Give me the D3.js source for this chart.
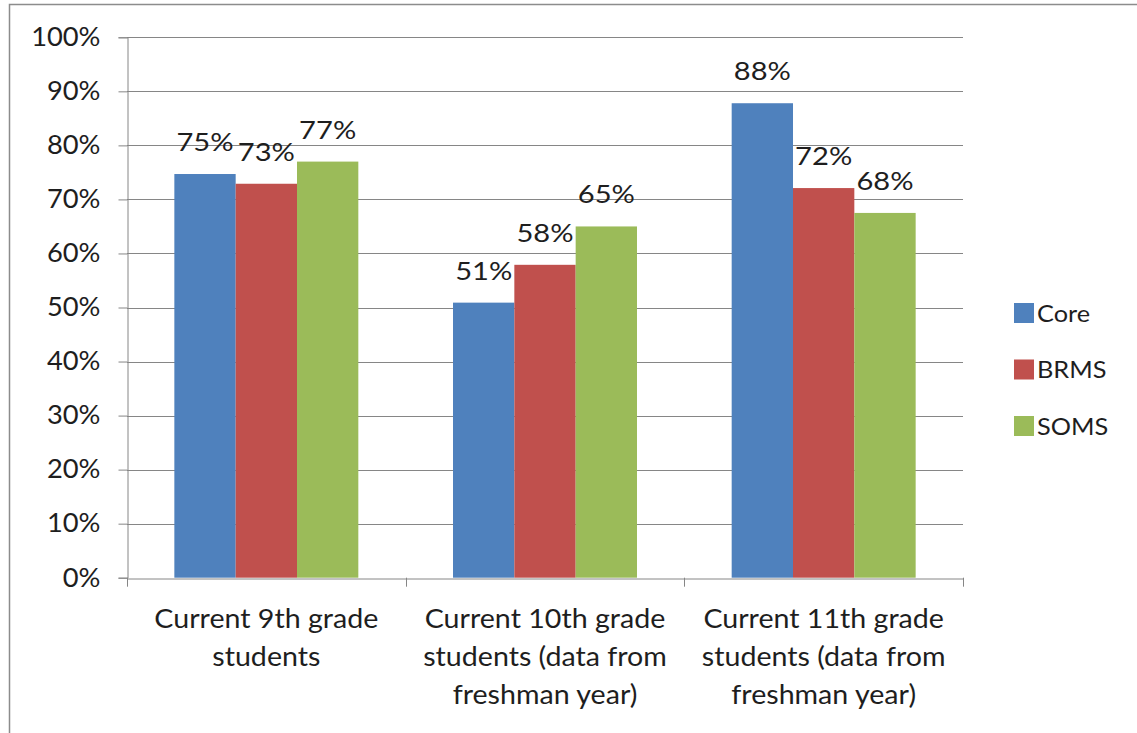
<!DOCTYPE html>
<html>
<head>
<meta charset="utf-8">
<script src="https://cdn.jsdelivr.net/npm/d3@7"></script>
<style>
  html, body { margin: 0; padding: 0; background: #fff; }
  svg { display: block; }
  text { font-family: Lato, "Open Sans", sans-serif; fill: #1e1e1e; }
</style>
</head>
<body>
<svg id="chart" width="1137" height="733"></svg>
<script>
// ---- data ----
const categories = [
  "Current 9th grade students",
  "Current 10th grade students (data from freshman year)",
  "Current 11th grade students (data from freshman year)"
];
const categoryLines = [
  ["Current 9th grade", "students"],
  ["Current 10th grade", "students (data from", "freshman year)"],
  ["Current 11th grade", "students (data from", "freshman year)"]
];
const seriesNames = ["Core", "BRMS", "SOMS"];
const coreValues = [74.7, 50.9, 87.8];
const brmsValues = [72.9, 57.9, 72.1];
const somsValues = [77.0, 65.0, 67.5];
const yTicks = [0, 10, 20, 30, 40, 50, 60, 70, 80, 90, 100];
const colors = ["#4F81BD", "#C0504D", "#9BBB59"];

const seriesValues = [coreValues, brmsValues, somsValues];
const data = categories.map((c, i) => ({
  cat: c,
  vals: seriesNames.map((s, j) => ({ series: s, value: seriesValues[j][i] }))
}));

// ---- layout ----
const svg = d3.select("#chart");
const plot = { left: 127, right: 963, top: 37.3, bottom: 577.7 };

// outer frame (left + top visible)
svg.append("rect")
  .attr("x", 9.5).attr("y", 4.5)
  .attr("width", 1200).attr("height", 800)
  .attr("fill", "none").attr("stroke", "#8c8c8c").attr("stroke-width", 1.5);

const x0 = d3.scaleBand().domain(categories).range([plot.left, plot.right]).padding(0);
const x1 = d3.scaleBand().domain(seriesNames).range([0, x0.bandwidth()])
  .paddingInner(0).paddingOuter(0.772);
const y = d3.scaleLinear().domain([0, 100]).range([plot.bottom, plot.top]);
const color = d3.scaleOrdinal().domain(seriesNames).range(colors);

// gridlines
svg.append("g")
  .selectAll("line").data(yTicks.filter(t => t > 0)).join("line")
  .attr("x1", plot.left).attr("x2", plot.right)
  .attr("y1", d => Math.round(y(d)) + 0.5).attr("y2", d => Math.round(y(d)) + 0.5)
  .attr("stroke", "#868686").attr("stroke-width", 1);

// y axis
const yAxis = d3.axisLeft(y).tickValues(yTicks).tickSize(9).tickPadding(18)
  .tickFormat(d => d + "%");
const gy = svg.append("g").attr("transform", `translate(${plot.left + 0.5},0)`).call(yAxis);
gy.select(".domain").attr("stroke", "#868686");
gy.selectAll(".tick line").attr("stroke", "#868686");
gy.selectAll(".tick text")
  .attr("font-size", 26).attr("font-family", "Lato, sans-serif").attr("fill", "#1e1e1e")
  .attr("x", null)
  .attr("transform", "translate(-27,0) scale(1.05,1)");

// bars
const groups = svg.append("g").selectAll("g").data(data).join("g")
  .attr("transform", d => `translate(${x0(d.cat)},0)`);
groups.selectAll("rect").data(d => d.vals).join("rect")
  .attr("x", d => x1(d.series))
  .attr("y", d => y(d.value))
  .attr("width", x1.bandwidth())
  .attr("height", d => y(0) - y(d.value))
  .attr("fill", d => color(d.series));

// data labels
groups.selectAll("text.lbl").data(d => d.vals).join("text")
  .attr("class", "lbl")
  .attr("transform", d => `translate(${x1(d.series) + x1.bandwidth() / 2},${y(d.value) - 23}) scale(1.12,1)`)
  .attr("text-anchor", "middle")
  .attr("font-size", 26)
  .text(d => Math.round(d.value) + "%");

// x axis
const xAxis = d3.axisBottom(x0).tickSize(0).tickFormat("");
const gx = svg.append("g").attr("transform", `translate(0,${Math.round(plot.bottom) + 0.5})`).call(xAxis);
gx.select(".domain").attr("stroke", "#868686");
// category boundary ticks
const bounds = [plot.left, ...categories.map(c => x0(c) + x0.bandwidth())];
svg.append("g").selectAll("line").data(bounds).join("line")
  .attr("x1", d => Math.round(d) + 0.5).attr("x2", d => Math.round(d) + 0.5)
  .attr("y1", plot.bottom).attr("y2", plot.bottom + 9)
  .attr("stroke", "#868686");

// category labels
const catText = svg.append("g").selectAll("text").data(categories).join("text")
  .attr("text-anchor", "middle")
  .attr("font-size", 26)
  .attr("transform", d => `translate(${x0(d) + x0.bandwidth() / 2},628) scale(1.1,1)`);
catText.selectAll("tspan").data((d, i) => categoryLines[i]).join("tspan")
  .attr("x", 0)
  .attr("dy", (d, i) => i === 0 ? 0 : 38)
  .text(d => d);

// legend
const legend = svg.append("g").selectAll("g").data(seriesNames).join("g")
  .attr("transform", (d, i) => `translate(1014,${313 + i * 56.5})`);
legend.append("rect").attr("x", 0).attr("y", -10).attr("width", 20).attr("height", 20)
  .attr("fill", d => color(d));
legend.append("text").attr("transform", "translate(23,8.5) scale(1.1,1)")
  .attr("font-size", 23).text(d => d);
</script>
</body>
</html>
